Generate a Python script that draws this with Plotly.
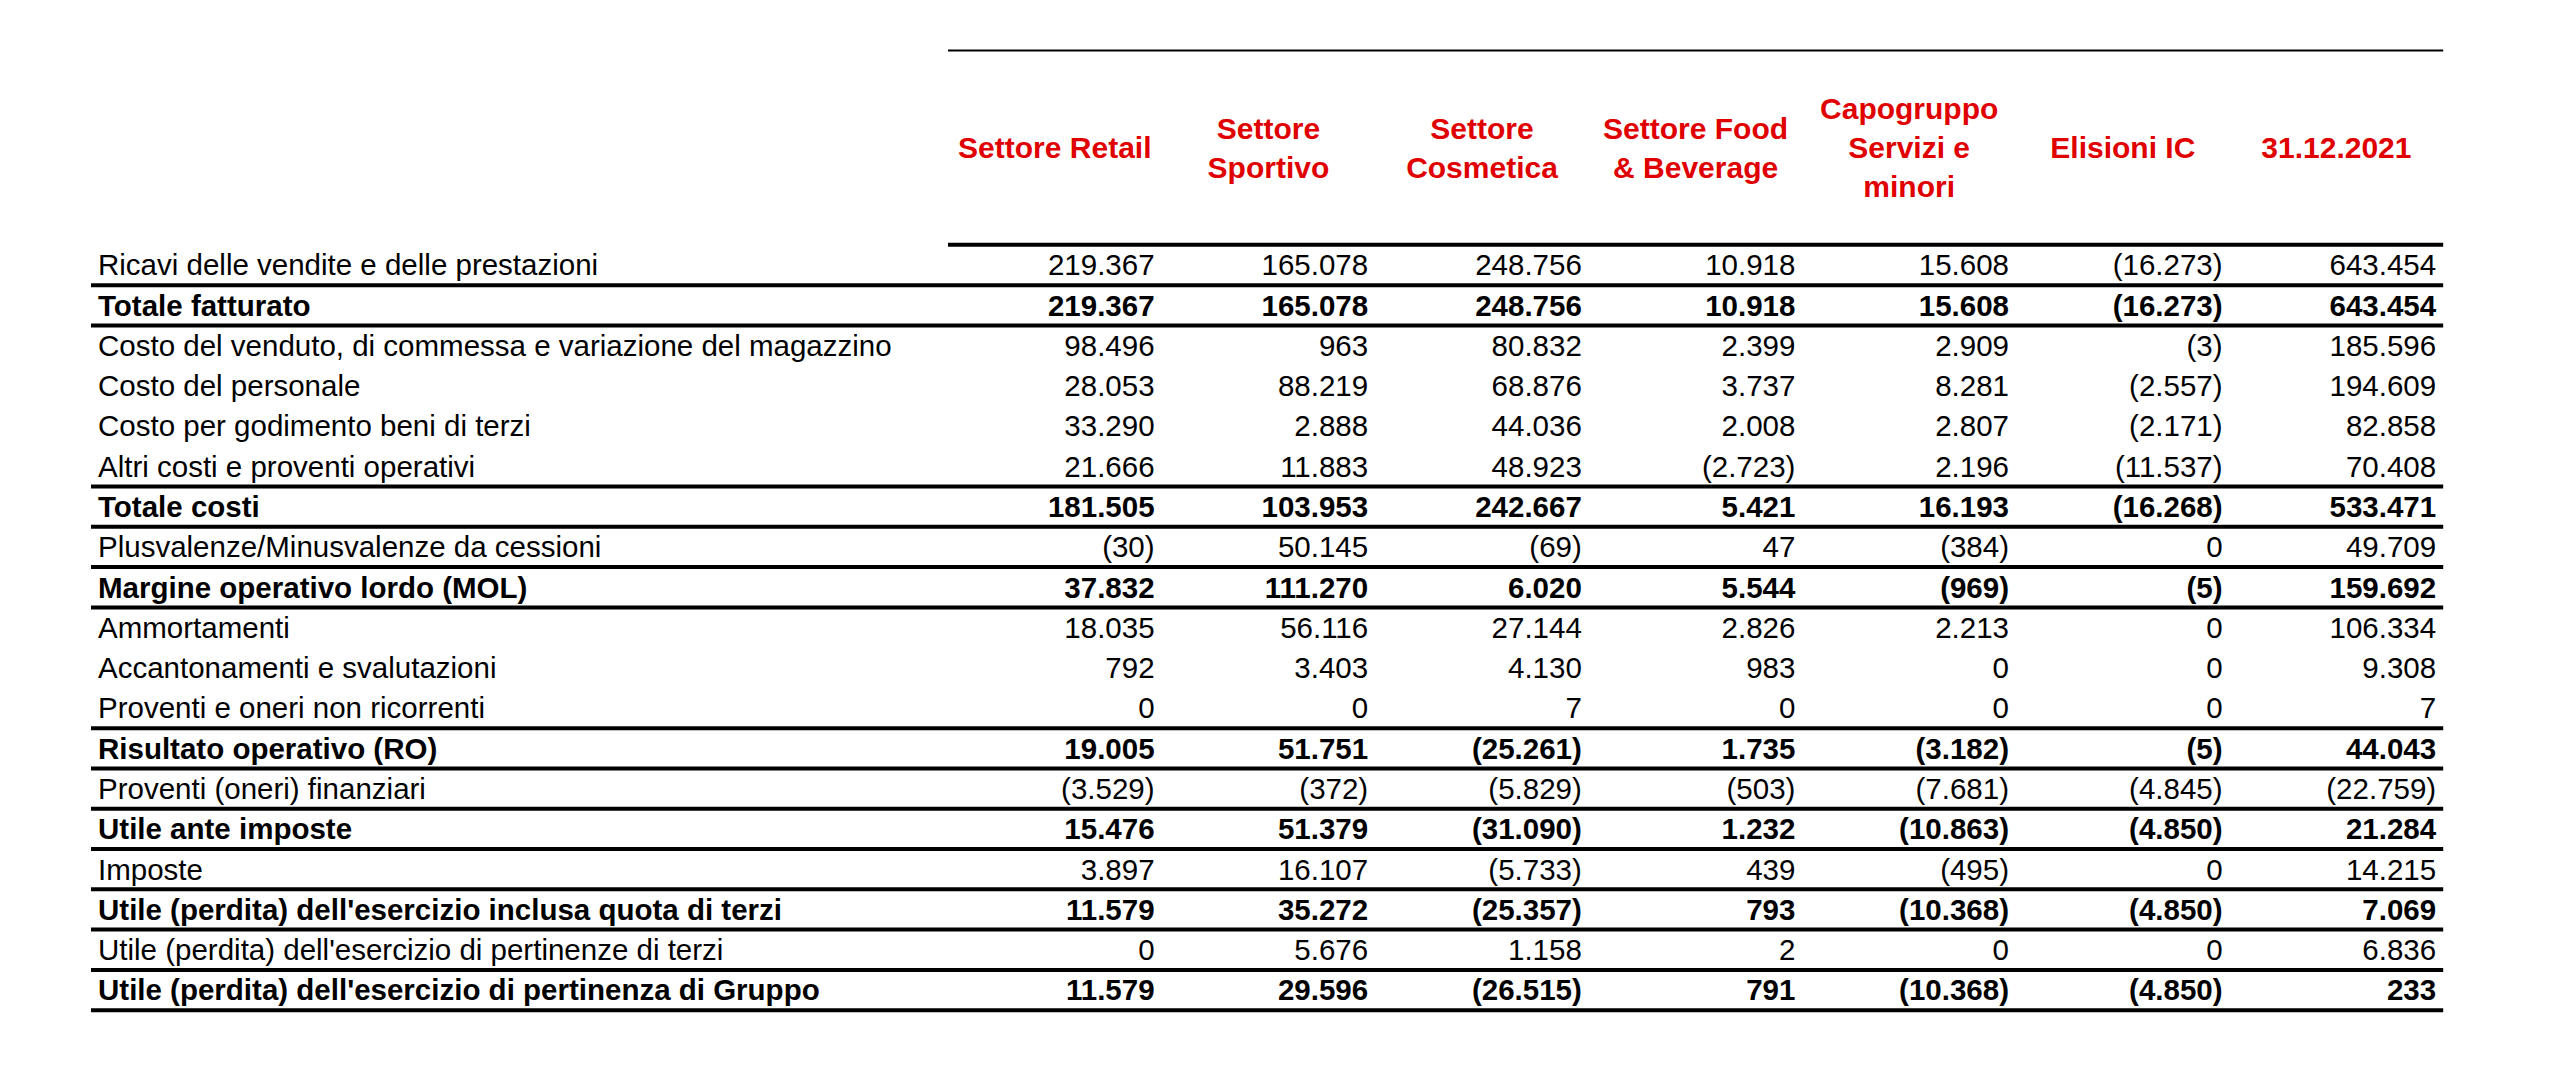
import plotly.graph_objects as go

# ---------------- data ----------------
row_labels = [
    "Ricavi delle vendite e delle prestazioni",
    "Totale fatturato",
    "Costo del venduto, di commessa e variazione del magazzino",
    "Costo del personale",
    "Costo per godimento beni di terzi",
    "Altri costi e proventi operativi",
    "Totale costi",
    "Plusvalenze/Minusvalenze da cessioni",
    "Margine operativo lordo (MOL)",
    "Ammortamenti",
    "Accantonamenti e svalutazioni",
    "Proventi e oneri non ricorrenti",
    "Risultato operativo (RO)",
    "Proventi (oneri) finanziari",
    "Utile ante imposte",
    "Imposte",
    "Utile (perdita) dell'esercizio inclusa quota di terzi",
    "Utile (perdita) dell'esercizio di pertinenze di terzi",
    "Utile (perdita) dell'esercizio di pertinenza di Gruppo",
]
total_rows = [False, True, False, False, False, False, True, False, True,
              False, False, False, True, False, True, False, True, False, True]

column_headers = [
    "Settore Retail",
    "Settore<br>Sportivo",
    "Settore<br>Cosmetica",
    "Settore Food<br>& Beverage",
    "Capogruppo<br>Servizi e<br>minori",
    "Elisioni IC",
    "31.12.2021",
]

settore_retail = [219367, 219367, 98496, 28053, 33290, 21666, 181505, -30, 37832,
                  18035, 792, 0, 19005, -3529, 15476, 3897, 11579, 0, 11579]
settore_sportivo = [165078, 165078, 963, 88219, 2888, 11883, 103953, 50145, 111270,
                    56116, 3403, 0, 51751, -372, 51379, 16107, 35272, 5676, 29596]
settore_cosmetica = [248756, 248756, 80832, 68876, 44036, 48923, 242667, -69, 6020,
                     27144, 4130, 7, -25261, -5829, -31090, -5733, -25357, 1158, -26515]
settore_food = [10918, 10918, 2399, 3737, 2008, -2723, 5421, 47, 5544,
                2826, 983, 0, 1735, -503, 1232, 439, 793, 2, 791]
capogruppo = [15608, 15608, 2909, 8281, 2807, 2196, 16193, -384, -969,
              2213, 0, 0, -3182, -7681, -10863, -495, -10368, 0, -10368]
elisioni_ic = [-16273, -16273, -3, -2557, -2171, -11537, -16268, 0, -5,
               0, 0, 0, -5, -4845, -4850, 0, -4850, 0, -4850]
totale_2021 = [643454, 643454, 185596, 194609, 82858, 70408, 533471, 49709, 159692,
               106334, 9308, 7, 44043, -22759, 21284, 14215, 7069, 6836, 233]

columns = [settore_retail, settore_sportivo, settore_cosmetica, settore_food,
           capogruppo, elisioni_ic, totale_2021]

# ---------------- layout constants ----------------
W, H = 2560, 1086
FONT = "Liberation Sans, Arial, sans-serif"
BODY_SIZE = 29.5
HEAD_SIZE = 30
RED = "#e00000"

# x axis: one unit = one value column; label column spans [-4, 0]
COL_PX = 213.6
COL0_PX = 948.0
# y axis: one unit = one row; row i centred at y = i
ROW_PX = 40.28
ROW0_PX = 265.0

def ux(p):
    return (p - COL0_PX) / COL_PX

def uy(p):
    return (p - ROW0_PX) / ROW_PX

LABEL_X = ux(98)
LINE_X0 = ux(91)
PAD = 7 / COL_PX
TEXT_DY = 3 / ROW_PX          # small downward nudge of text within its row
HEADER_TOP = uy(50.5)
HEADER_BOTTOM = -0.5
n_rows = len(row_labels)
n_cols = len(columns)
row_y = [i + TEXT_DY for i in range(n_rows)]


def fmt(v):
    s = f"{abs(v):,}".replace(",", ".")
    return f"({s})" if v < 0 else s


def style(text, bold):
    return f"<b>{text}</b>" if bold else text


fig = go.Figure()

# row labels
fig.add_trace(go.Scatter(
    x=[LABEL_X] * n_rows,
    y=row_y,
    mode="text",
    text=[style(t, b) for t, b in zip(row_labels, total_rows)],
    textposition="middle right",
    textfont=dict(family=FONT, size=BODY_SIZE, color="black"),
    hoverinfo="skip",
    showlegend=False,
))

# value columns
for ci, col in enumerate(columns):
    fig.add_trace(go.Scatter(
        x=[ci + 1 - PAD] * n_rows,
        y=row_y,
        mode="text",
        text=[style(fmt(v), b) for v, b in zip(col, total_rows)],
        textposition="middle left",
        textfont=dict(family=FONT, size=BODY_SIZE, color="black"),
        hoverinfo="skip",
        showlegend=False,
    ))

# column headers
fig.add_trace(go.Scatter(
    x=[ci + 0.5 for ci in range(n_cols)],
    y=[(HEADER_TOP + HEADER_BOTTOM) / 2 + TEXT_DY] * n_cols,
    mode="text",
    text=[f"<b>{h}</b>" for h in column_headers],
    textposition="middle center",
    textfont=dict(family=FONT, size=HEAD_SIZE, color=RED),
    hoverinfo="skip",
    showlegend=False,
))

shapes = []
# header rules
shapes.append(dict(type="line", xref="x", yref="y", x0=0, x1=n_cols,
                   y0=HEADER_TOP, y1=HEADER_TOP, line=dict(color="black", width=2)))
shapes.append(dict(type="line", xref="x", yref="y", x0=0, x1=n_cols,
                   y0=HEADER_BOTTOM, y1=HEADER_BOTTOM, line=dict(color="black", width=4)))
# row rules: above and below each total row
for i in range(n_rows):
    nxt = total_rows[i + 1] if i + 1 < n_rows else False
    if total_rows[i] or nxt:
        shapes.append(dict(type="line", xref="x", yref="y", x0=LINE_X0, x1=n_cols,
                           y0=i + 0.5, y1=i + 0.5, line=dict(color="black", width=4)))

fig.update_layout(
    width=W, height=H,
    margin=dict(l=0, r=0, t=0, b=0),
    paper_bgcolor="white", plot_bgcolor="white",
    shapes=shapes,
    xaxis=dict(range=[ux(0), ux(W)], visible=False, fixedrange=True),
    yaxis=dict(range=[uy(H), uy(0)], visible=False, fixedrange=True),
    showlegend=False,
)

fig.write_html(
    "out.html",
    config={"displayModeBar": False},
    post_script="document.body.style.margin='0';document.body.style.overflow='hidden';",
)
